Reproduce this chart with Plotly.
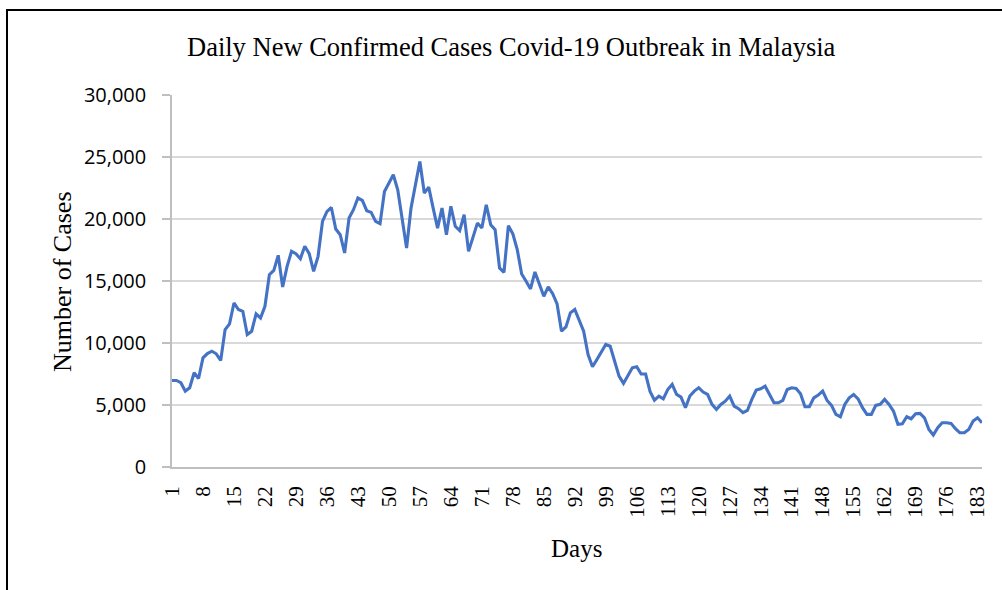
import plotly.graph_objects as go

days = list(range(1, 185))
cases = [
    6980, 6980, 6800, 6120, 6390, 7600, 7140, 8800, 9150, 9340,
    9130, 8590, 11080, 11540, 13230, 12700, 12560, 10680, 10950, 12350,
    12020, 12960, 15510, 15860, 17070, 14520, 16180, 17390, 17200, 16800,
    17800, 17200, 15780, 16990, 19800, 20600, 20930, 19190, 18730, 17260,
    20080, 20750, 21690, 21500, 20670, 20530, 19810, 19620, 22220, 22890,
    23570, 22360, 19940, 17660, 20880, 22630, 24640, 22090, 22570, 20880,
    19270, 20880, 18730, 21020, 19410, 19060, 20340, 17390, 18470, 19670,
    19270, 21150, 19540, 19140, 16050, 15700, 19460, 18810, 17530, 15570,
    14980, 14360, 15730, 14790, 13770, 14520, 13980, 13150, 10950, 11300,
    12430, 12700, 11890, 10950, 9070, 8080, 8670, 9260, 9880, 9740,
    8540, 7330, 6740, 7330, 8000, 8080, 7500, 7500, 6100, 5390,
    5720, 5500, 6250, 6660, 5850, 5640, 4780, 5720, 6120, 6390,
    6040, 5850, 5050, 4640, 5050, 5310, 5720, 4910, 4700, 4375,
    4560, 5450, 6200, 6310, 6520, 5850, 5180, 5180, 5370, 6250,
    6390, 6330, 5900, 4860, 4860, 5580, 5800, 6120, 5370, 4970,
    4240, 4050, 5050, 5580, 5850, 5500, 4780, 4240, 4240, 4970,
    5050, 5450, 5050, 4510, 3440, 3490, 4050, 3890, 4290, 4320,
    3970, 3030, 2580, 3170, 3570, 3570, 3520, 3090, 2760, 2760,
    3030, 3700, 3970, 3570,
]
x_tick_vals = list(range(1, 185, 7))
x_tick_text = [str(v) for v in x_tick_vals]
y_tick_vals = [0, 5000, 10000, 15000, 20000, 25000, 30000]
y_tick_text = ["0", "5,000", "10,000", "15,000", "20,000", "25,000", "30,000"]

title_text = "Daily New Confirmed Cases Covid-19 Outbreak in Malaysia"
x_title = "Days"
y_title = "Number of Cases"

fig = go.Figure()
fig.add_trace(go.Scatter(
    x=days, y=cases, mode="lines",
    line=dict(color="#4472C4", width=3.1),
    hoverinfo="x+y", showlegend=False,
))

serif = "Liberation Serif, Times New Roman, serif"

fig.update_layout(
    width=1002, height=590,
    margin=dict(l=172, r=20, t=95, b=123),
    paper_bgcolor="white", plot_bgcolor="white",
    xaxis=dict(
        range=[1, 184], tickmode="array", tickvals=x_tick_vals, ticktext=x_tick_text,
        tickangle=-90, tickfont=dict(family=serif, size=21, color="black"),
        showgrid=False, zeroline=False, showline=True, linecolor="#bfbfbf", linewidth=1.5,
        ticks="", ticklabelstandoff=9,
    ),
    yaxis=dict(
        range=[0, 30000], tickmode="array", tickvals=y_tick_vals, ticktext=y_tick_text,
        tickfont=dict(family="Open Sans, Liberation Sans, sans-serif", size=20, color="black"),
        showgrid=True, gridcolor="#d9d9d9", gridwidth=1.5, zeroline=False,
        showline=True, linecolor="#bfbfbf", linewidth=1.5,
        ticks="outside", ticklen=8, tickcolor="#bfbfbf", tickwidth=1.5,
        ticklabelstandoff=12,
    ),
    annotations=[
        dict(text=title_text, xref="paper", yref="paper",
             x=(511 - 172) / 810, y=(467 - 47) / 372, xanchor="center", yanchor="middle",
             showarrow=False, font=dict(family=serif, size=26.5, color="black")),
        dict(text=x_title, xref="paper", yref="paper",
             x=(576 - 172) / 810, y=(467 - 548) / 372, xanchor="center", yanchor="middle",
             showarrow=False, font=dict(family=serif, size=25, color="black")),
        dict(text=y_title, xref="paper", yref="paper", textangle=-90,
             x=(62 - 172) / 810, y=(467 - 282) / 372, xanchor="center", yanchor="middle",
             showarrow=False, font=dict(family=serif, size=26, color="black")),
    ],
    shapes=[
        dict(type="rect", xref="paper", yref="paper",
             x0=(7 - 172) / 810, x1=(1040 - 172) / 810,
             y0=(467 - 640) / 372, y1=(467 - 10) / 372,
             line=dict(color="black", width=2), fillcolor="rgba(0,0,0,0)", layer="below"),
    ],
)

fig.write_html(
    "out.html",
    config={"displayModeBar": False},
    post_script="document.body.style.margin='0';document.body.style.padding='0';",
)
